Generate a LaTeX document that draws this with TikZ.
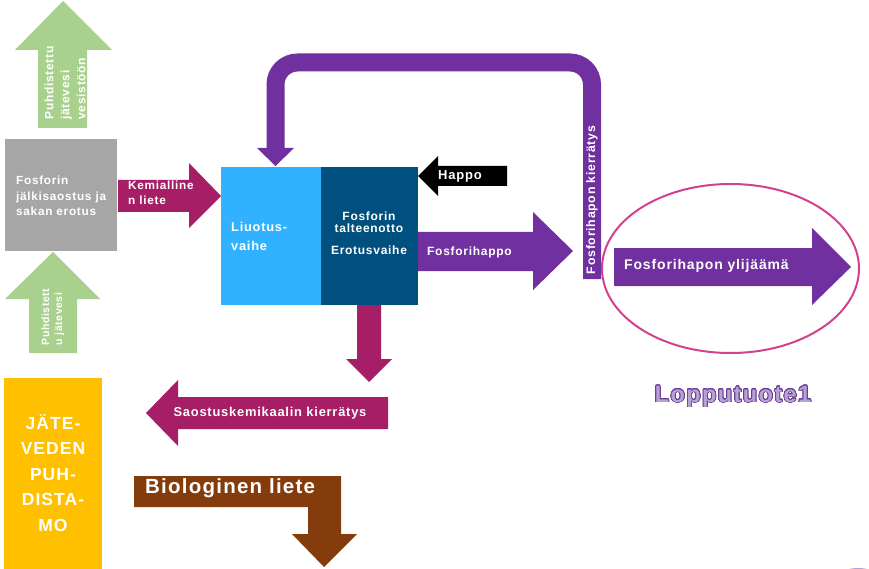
\documentclass[tikz,border=0pt]{standalone}
\usepackage{fontspec}
\setmainfont{Liberation Sans}[LetterSpace=6]
\usepackage{contour}
\contournumber{32}
\definecolor{cgreen}{HTML}{A9D18E}
\definecolor{cgray}{HTML}{A6A6A6}
\definecolor{cyellow}{HTML}{FFC000}
\definecolor{cmag}{HTML}{A61F66}
\definecolor{clblue}{HTML}{30B2FF}
\definecolor{cdblue}{HTML}{00507F}
\definecolor{cpurple}{HTML}{7030A0}
\definecolor{cbrown}{HTML}{843C0C}
\definecolor{cpink}{HTML}{D2418E}
\definecolor{clav}{HTML}{B7A2D6}
\definecolor{coutl}{HTML}{6A3D96}
\begin{document}
\begin{tikzpicture}[x=1pt,y=-1pt,
  lbl/.style={text=white, inner sep=0pt},
  fs/.style 2 args={font=\bfseries\fontsize{#1}{#2}\selectfont},
  blk/.style={inner sep=0pt, anchor=north west}]
\useasboundingbox (0,0) rectangle (869,569);
\fill[white] (0,0) rectangle (869,569);

% logo fragment
\fill[clav] (858,590) ellipse [x radius=30pt, y radius=22pt];

% top green arrow
\fill[cgreen] (38,128) -- (38,50) -- (15,50) -- (63,1) -- (112,50) -- (87,50) -- (87,128) -- cycle;
\node[lbl, fs={12}{16}, rotate=90, align=left] (gtop) at (65,83) {Puhdistettu\\jätevesi\\vesistöön};

% gray box
\node[blk, fill=cgray, minimum width=112pt, minimum height=112pt] (gray) at (5,139) {};
\node[lbl, fs={11.8}{15.5}, anchor=west, align=left] (grayt) at (16,196) {Fosforin\\jälkisaostus ja\\sakan erotus};

% lower green arrow
\fill[cgreen] (29,353) -- (29,299) -- (5,299) -- (53,252) -- (100,299) -- (77,299) -- (77,353) -- cycle;
\node[lbl, fs={10.5}{13}, rotate=90, align=left] (gbot) at (53,317) {Puhdistett\\u jätevesi};

% yellow box
\node[blk, fill=cyellow, minimum width=98pt, minimum height=191pt] (yel) at (4,378) {};
\node[lbl, fs={17.5}{25.5}, align=center] (yelt) at (53,473) {JÄTE-\\VEDEN\\PUH-\\DISTA-\\MO};

% Kemialline arrow
\fill[cmag] (118,180) -- (189,180) -- (189,163) -- (221,196) -- (189,228) -- (189,212) -- (118,212) -- cycle;
\node[lbl, fs={11.8}{15.5}, anchor=west, align=left] (kem) at (128,193) {Kemialline\\n liete};

% process boxes
\node[blk, fill=clblue, minimum width=100pt, minimum height=138pt] (liu) at (221,167) {};
\node[blk, fill=cdblue, minimum width=97pt, minimum height=138pt] (ero) at (321,167) {};
\node[lbl, fs={12.8}{19}, anchor=west, align=left] (liut) at (231,236) {Liuotus-\\vaihe};
\node[lbl, fs={12}{12}, align=center] (fost) at (369,222) {Fosforin\\talteenotto};
\node[lbl, fs={12}{14}] (erot) at (369,250) {Erotusvaihe};

% Happo arrow
\fill[black] (507,166) -- (438,166) -- (438,156) -- (418,176) -- (438,196) -- (438,186) -- (507,186) -- cycle;
\node[lbl, fs={13}{14}, anchor=west] (happo) at (438,176) {Happo};

% Fosforihappo arrow
\fill[cpurple] (418,232) -- (533,232) -- (533,212) -- (573,251) -- (533,290) -- (533,271) -- (418,271) -- cycle;
\node[lbl, fs={12}{13}, anchor=west] (fh) at (427,252) {Fosforihappo};

% recycle loop
\draw[cpurple, line width=18pt, rounded corners=22pt] (592,279) -- (592,62.5) -- (275.5,62.5) -- (275.5,149);
\fill[cpurple] (257,148) -- (294,148) -- (275.5,166) -- cycle;
\node[lbl, fs={12.3}{13}, rotate=90] (kier) at (592,200) {Fosforihapon kierrätys};

% surplus
\draw[cpink, line width=2pt] (730.5,268.5) ellipse [x radius=128.5pt, y radius=84.5pt];
\fill[cpurple] (614,248) -- (812,248) -- (812,228) -- (851,267) -- (812,305) -- (812,286) -- (614,286) -- cycle;
\node[lbl, fs={14}{15}, anchor=west] (yli) at (624,266) {Fosforihapon ylijäämä};
\contourlength{0.7pt}
\node[inner sep=0pt, fs={23.5}{25}] (lop) at (733,397) {\contour{coutl}{\textcolor{clav}{Lopputuote1}}};

% down magenta arrow
\fill[cmag] (357,305) -- (381,305) -- (381,359) -- (392,359) -- (369,382) -- (346,359) -- (357,359) -- cycle;

% Saostus arrow
\fill[cmag] (388,397) -- (178,397) -- (178,380) -- (146,413) -- (178,446) -- (178,429) -- (388,429) -- cycle;
\node[lbl, fs={12.9}{14}] (sao) at (270,413) {Saostuskemikaalin kierrätys};

% brown bent arrow
\fill[cbrown] (134,476) -- (341,476) -- (341,534) -- (357,534) -- (324,567) -- (292,534) -- (308,534) -- (308,507) -- (134,507) -- cycle;
\node[lbl, fs={20.5}{22}, anchor=west] (bio) at (145,488) {Biologinen liete};
\end{tikzpicture}
\end{document}
